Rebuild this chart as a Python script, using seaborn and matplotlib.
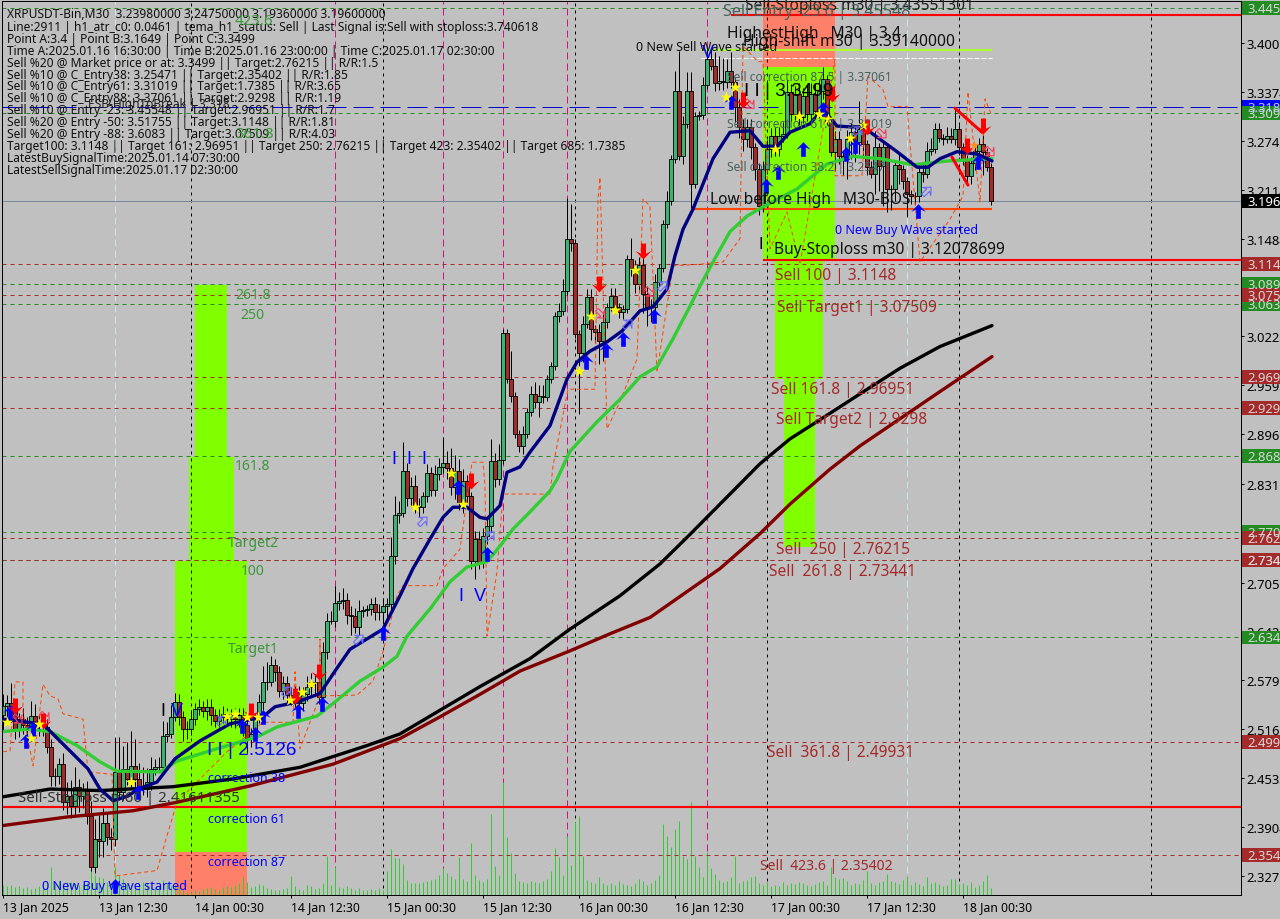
import matplotlib
matplotlib.use("Agg")
import matplotlib.pyplot as plt
from matplotlib.path import Path
from matplotlib.patches import Rectangle
from matplotlib.transforms import blended_transform_factory
import numpy as np
import pandas as pd
import seaborn as sns

# Candles, one close per 30 minute bar
closes = [
    2.546, 2.550, 2.540, 2.516, 2.529, 2.522, 2.516, 2.533, 2.522, 2.525, 2.519, 2.493,
    2.456, 2.456, 2.471, 2.422, 2.430, 2.417, 2.442, 2.430, 2.439, 2.404, 2.339, 2.375,
    2.372, 2.395, 2.377, 2.375, 2.461, 2.435, 2.465, 2.452, 2.469, 2.452, 2.442, 2.439,
    2.448, 2.465, 2.468, 2.468, 2.507, 2.510, 2.532, 2.551, 2.532, 2.516, 2.516, 2.529,
    2.542, 2.545, 2.540, 2.545, 2.534, 2.527, 2.532, 2.536, 2.529, 2.534, 2.529, 2.534,
    2.522, 2.505, 2.510, 2.529, 2.551, 2.577, 2.577, 2.599, 2.590, 2.565, 2.575, 2.560,
    2.555, 2.564, 2.550, 2.561, 2.570, 2.577, 2.577, 2.558, 2.616, 2.656, 2.656, 2.679,
    2.681, 2.683, 2.663, 2.662, 2.648, 2.668, 2.670, 2.671, 2.677, 2.667, 2.667, 2.675,
    2.677, 2.739, 2.792, 2.795, 2.849, 2.814, 2.829, 2.804, 2.802, 2.817, 2.846, 2.824,
    2.845, 2.854, 2.859, 2.853, 2.828, 2.849, 2.809, 2.836, 2.817, 2.733, 2.761, 2.732,
    2.765, 2.778, 2.862, 2.838, 2.863, 3.026, 2.967, 2.945, 2.896, 2.881, 2.896, 2.925,
    2.948, 2.938, 2.945, 2.944, 2.967, 2.984, 3.048, 3.055, 3.081, 3.148, 3.142, 3.025,
    3.001, 3.038, 3.073, 3.032, 3.028, 3.016, 3.041, 3.060, 3.074, 3.060, 3.054, 3.057,
    3.122, 3.110, 3.090, 3.114, 3.077, 3.060, 3.060, 3.092, 3.110, 3.167, 3.196, 3.251,
    3.338, 3.254, 3.296, 3.338, 3.218, 3.306, 3.307, 3.346, 3.379, 3.370, 3.348, 3.351,
    3.350, 3.364, 3.350, 3.318, 3.292, 3.276, 3.292, 3.266, 3.238, 3.190, 3.238, 3.263,
    3.280, 3.263, 3.280, 3.283, 3.337, 3.309, 3.334, 3.305, 3.332, 3.309, 3.334, 3.312,
    3.338, 3.354, 3.300, 3.260, 3.276, 3.254, 3.250, 3.276, 3.285, 3.272, 3.289, 3.270,
    3.240, 3.231, 3.266, 3.242, 3.266, 3.212, 3.212, 3.243, 3.238, 3.222, 3.206, 3.203,
    3.203, 3.234, 3.231, 3.261, 3.263, 3.289, 3.278, 3.276, 3.280, 3.276, 3.289, 3.266,
    3.251, 3.229, 3.245, 3.261, 3.270, 3.260, 3.240, 3.196,
]
first_open = 2.535

# Wick lengths in thousandths of a price unit
upper_wicks = [
    15, 10, 25, 12, 8, 15, 10, 20, 15, 10, 8, 10,
    10, 10, 8, 15, 18, 20, 25, 10, 8, 10, 20, 25,
    30, 20, 15, 12, 45, 45, 30, 35, 45, 35, 20, 25,
    18, 15, 10, 12, 20, 15, 15, 12, 10, 8, 10, 12,
    8, 10, 8, 10, 10, 8, 10, 10, 8, 8, 10, 10,
    10, 12, 8, 8, 10, 20, 25, 12, 8, 8, 10, 10,
    10, 8, 8, 10, 15, 12, 10, 10, 12, 10, 12, 21,
    12, 15, 8, 12, 10, 15, 5, 5, 8, 10, 10, 10,
    8, 25, 25, 15, 37, 10, 12, 15, 10, 5, 12, 8,
    12, 12, 33, 15, 25, 20, 15, 15, 8, 5, 10, 10,
    10, 10, 28, 10, 20, 5, 5, 36, 5, 5, 10, 5,
    10, 15, 15, 15, 5, 5, 5, 10, 15, 52, 45, 5,
    5, 10, 10, 10, 5, 10, 10, 5, 10, 10, 5, 5,
    5, 27, 10, 10, 10, 10, 10, 10, 5, 5, 13, 5,
    26, 52, 10, 25, 25, 5, 5, 10, 13, 13, 18, 32,
    30, 15, 25, 5, 10, 10, 10, 10, 5, 8, 10, 12,
    10, 12, 12, 15, 15, 10, 10, 15, 10, 15, 15, 15,
    15, 15, 5, 5, 10, 10, 5, 12, 12, 10, 36, 12,
    5, 8, 20, 5, 8, 5, 5, 5, 15, 5, 5, 5,
    5, 8, 10, 12, 15, 8, 8, 5, 12, 10, 28, 5,
    5, 5, 8, 8, 8, 12, 5, 5,
]
lower_wicks = [
    20, 15, 15, 12, 10, 12, 15, 15, 15, 15, 12, 8,
    13, 13, 10, 10, 15, 15, 13, 20, 15, 10, 5, 8,
    20, 20, 10, 15, 10, 10, 10, 8, 10, 10, 8, 8,
    10, 10, 8, 5, 5, 8, 5, 5, 10, 15, 12, 8,
    8, 8, 8, 12, 12, 8, 8, 8, 8, 10, 12, 10,
    15, 20, 12, 8, 5, 10, 10, 5, 12, 8, 10, 10,
    8, 10, 8, 10, 8, 10, 15, 10, 8, 10, 5, 8,
    10, 10, 12, 25, 8, 10, 8, 8, 8, 10, 10, 15,
    15, 8, 10, 10, 5, 10, 10, 10, 12, 8, 8, 8,
    8, 8, 8, 15, 10, 15, 10, 15, 10, 10, 23, 10,
    8, 10, 8, 10, 8, 5, 5, 8, 5, 8, 10, 5,
    5, 8, 20, 8, 5, 5, 5, 8, 5, 5, 10, 5,
    79, 12, 5, 15, 15, 30, 25, 8, 5, 5, 8, 10,
    5, 10, 12, 10, 25, 25, 20, 10, 5, 5, 5, 5,
    5, 5, 10, 5, 30, 5, 5, 5, 5, 5, 10, 8,
    10, 8, 8, 20, 15, 15, 10, 15, 15, 12, 8, 5,
    10, 8, 8, 8, 5, 10, 8, 10, 8, 10, 8, 10,
    8, 10, 5, 5, 25, 10, 20, 25, 25, 25, 15, 15,
    10, 5, 25, 33, 52, 30, 27, 15, 20, 10, 30, 10,
    10, 8, 10, 5, 5, 5, 5, 8, 5, 5, 8, 10,
    8, 8, 10, 8, 5, 30, 5, 5,
]
volumes = [
    10, 9, 10, 8, 9, 7, 8, 6, 7, 9, 12, 14,
    28, 11, 14, 12, 13, 13, 12, 10, 11, 12, 27, 20,
    18, 17, 13, 12, 28, 20, 16, 12, 10, 8, 10, 13,
    12, 8, 7, 9, 15, 12, 9, 10, 8, 5, 3, 3,
    5, 4, 6, 7, 8, 6, 5, 8, 9, 8, 10, 12,
    18, 13, 8, 9, 11, 10, 7, 6, 5, 5, 6, 7,
    19, 9, 6, 5, 10, 9, 6, 7, 12, 39, 10, 28,
    8, 7, 9, 7, 5, 7, 5, 5, 6, 5, 7, 5,
    24, 46, 37, 37, 31, 15, 12, 12, 12, 13, 14, 15,
    16, 20, 27, 22, 19, 16, 38, 16, 14, 52, 20, 15,
    13, 16, 81, 29, 20, 113, 58, 42, 22, 14, 13, 12,
    14, 13, 12, 14, 16, 24, 47, 38, 20, 59, 30, 73,
    79, 39, 15, 13, 12, 18, 12, 10, 12, 10, 14, 11,
    10, 9, 12, 16, 14, 10, 12, 15, 20, 71, 59, 48,
    66, 74, 39, 36, 93, 39, 28, 18, 43, 27, 21, 15,
    13, 14, 18, 39, 12, 14, 15, 18, 19, 12, 10, 13,
    9, 10, 9, 13, 10, 12, 11, 13, 12, 10, 9, 11,
    13, 14, 10, 28, 18, 16, 17, 14, 10, 12, 11, 15,
    24, 12, 10, 13, 14, 21, 14, 13, 11, 15, 19, 10,
    13, 11, 9, 18, 12, 13, 11, 9, 10, 16, 16, 11,
    12, 10, 13, 8, 10, 14, 20, 7,
]

# Moving averages, read at the bends
blue_bars = [0, 9.25, 10.5, 21.25, 24.25, 27.5, 31.25, 33.75, 38.5, 43, 49.25, 56.75, 65, 68, 73.5, 79.25,
             83, 86.75, 95, 99.25, 102.5, 106.75, 110, 112.5, 116, 119.25, 121, 124.25, 126, 129.25, 131.75,
             136.75, 141, 143.5, 146.75, 151, 154.75, 159.25, 162.5, 166, 168, 170, 172.5, 177.5, 181.75,
             186.75, 190, 193.5, 196.75, 201.75, 205, 208.5, 211.75, 215, 219.25, 223.5, 228.5, 231.25,
             234.25, 238.5, 243.5, 247.25]
blue_vals = [2.529, 2.523, 2.520, 2.465, 2.439, 2.424, 2.430, 2.439, 2.448, 2.478, 2.501, 2.523, 2.532, 2.545,
             2.551, 2.562, 2.591, 2.619, 2.645, 2.688, 2.723, 2.761, 2.789, 2.802, 2.802, 2.789, 2.787, 2.804,
             2.847, 2.854, 2.873, 2.907, 2.967, 2.989, 3.003, 3.015, 3.029, 3.055, 3.060, 3.083, 3.126, 3.160,
             3.186, 3.251, 3.285, 3.287, 3.267, 3.267, 3.285, 3.296, 3.315, 3.293, 3.292, 3.292, 3.276, 3.260,
             3.240, 3.240, 3.251, 3.260, 3.257, 3.248]
green_bars = [0, 6, 11.75, 18.5, 24.25, 28.5, 39.25, 43.5, 53.5, 63.5, 68.5, 78.5, 82.5, 89.25, 95, 98.5, 101,
              106.75, 111.75, 116, 121, 124.25, 127.5, 131.75, 136.75, 138.5, 141.75, 148.5, 154.25, 159.25,
              163.5, 167.5, 171.75, 174.25, 177.5, 181.75, 186, 190, 198.5, 206, 212.5, 219.25, 227.5, 236, 247.25]
green_vals = [2.513, 2.516, 2.513, 2.495, 2.474, 2.462, 2.461, 2.475, 2.491, 2.506, 2.519, 2.533, 2.549, 2.578,
              2.596, 2.610, 2.636, 2.671, 2.706, 2.725, 2.732, 2.752, 2.774, 2.796, 2.823, 2.838, 2.874, 2.912,
              2.941, 2.970, 2.983, 3.019, 3.061, 3.087, 3.118, 3.157, 3.177, 3.189, 3.212, 3.244, 3.254, 3.251,
              3.243, 3.248, 3.251]
black_bars = [0, 11.75, 24.25, 42.5, 57.5, 74.25, 91, 99.25, 119.25, 131.75, 141.75, 154.25, 164.25, 171.75, 179.25,
              189.25, 196.75, 206.75, 214.25, 224.25, 234.25, 247.25]
black_vals = [2.429, 2.439, 2.437, 2.442, 2.452, 2.467, 2.495, 2.510, 2.571, 2.607, 2.645, 2.688, 2.729, 2.767, 2.806,
              2.858, 2.890, 2.923, 2.948, 2.981, 3.009, 3.036]
maroon_bars = [0, 16, 32.5, 43.5, 61.75, 82.5, 99.25, 109.25, 119.25, 129.25, 141.75, 151.75, 161.75, 171.75, 179.25,
               189.25, 196.75, 206.75, 214.25, 224.25, 234.25, 247.25]
maroon_vals = [2.392, 2.403, 2.411, 2.422, 2.443, 2.471, 2.504, 2.532, 2.561, 2.591, 2.617, 2.639, 2.660, 2.696, 2.723,
               2.768, 2.806, 2.851, 2.881, 2.916, 2.951, 2.996]

# Thin orange dashed channel
orange_bars = [0, 1.75, 3, 5, 5, 7.5, 10, 11.75, 13.75, 15, 20, 21.25, 27.25, 28, 38.5, 41, 43.5, 49.25, 56, 65,
               72.5, 73, 74.25, 79.25, 79.25, 79.25, 88.5, 92.5, 95, 98.5, 100, 108.5, 110, 114.25, 117.25, 120,
               120.5, 121, 123.5, 125, 136.75, 137.5, 141.25, 148, 148.75, 149.25, 151, 154.25, 158.5, 160,
               161.75, 163.5, 167.5, 174.25, 180, 184.25, 185, 188.75, 190, 191.75, 196, 199.25, 208, 208,
               214.75, 216.25, 220, 221.25, 226, 229.25, 236.75, 240, 241.25, 244.25, 245.5, 247.25]
orange_vals = [2.487, 2.488, 2.577, 2.577, 2.538, 2.469, 2.574, 2.559, 2.555, 2.536, 2.529, 2.461, 2.458, 2.327,
               2.334, 2.379, 2.422, 2.452, 2.487, 2.525, 2.525, 2.590, 2.491, 2.559, 2.632, 2.559, 2.560, 2.578,
               2.616, 2.688, 2.701, 2.701, 2.723, 2.748, 2.860, 2.860, 2.829, 2.636, 2.719, 2.819, 2.819, 2.855,
               2.954, 2.954, 3.199, 3.227, 2.903, 2.938, 2.993, 3.199, 3.190, 2.976, 3.113, 3.115, 3.118, 3.148,
               3.396, 3.376, 3.376, 3.135, 3.182, 3.115, 3.379, 3.229, 3.229, 3.357, 3.340, 3.318, 3.318, 3.118,
               3.173, 3.203, 3.337, 3.195, 3.328, 3.306]

# Signals
buy_bars = [1.75, 7.5, 5.75, 28, 33.75, 59.75, 63, 65, 73.75, 79.75, 95, 113.75, 121, 145.75, 150.75, 155, 162.75,
            182, 190.75, 193.75, 200, 205, 210.75, 213, 228.75, 243.75]
buy_vals = [2.538, 2.516, 2.501, 2.314, 2.435, 2.520, 2.510, 2.532, 2.540, 2.549, 2.640, 2.828, 2.742, 2.989, 3.005,
            3.019, 3.048, 3.324, 3.216, 3.234, 3.263, 3.315, 3.257, 3.267, 3.184, 3.247]
sell_bars = [3, 10, 62, 73, 79, 117, 149, 160, 185, 207.25, 216, 241, 245]
sell_vals = [2.546, 2.527, 2.540, 2.559, 2.590, 2.836, 3.090, 3.132, 3.327, 3.334, 3.292, 3.267, 3.293]
star_bars = [1, 7, 9, 32, 56, 58, 61, 63.75, 71.75, 74.75, 77, 112, 115, 103, 144, 147, 153, 158, 180.75, 183, 193,
             199, 204, 206.25, 211.75, 215]
star_vals = [2.525, 2.505, 2.523, 2.448, 2.533, 2.536, 2.532, 2.532, 2.554, 2.564, 2.574, 2.846, 2.806, 2.802, 2.978,
             3.048, 3.056, 3.108, 3.330, 3.343, 3.263, 3.306, 3.309, 3.302, 3.278, 3.294]
hollow_up_bars = [105, 89, 121.75, 231, 213.75, 165, 156.25, 54.75, 71]
hollow_up_vals = [2.784, 2.632, 2.765, 3.209, 3.287, 3.087, 3.038, 2.527, 2.565]
hollow_down_bars = [149.5, 161.75, 186.75, 219.75, 246.75, 3.75, 10.5]
hollow_down_vals = [3.051, 3.079, 3.321, 3.283, 3.260, 2.529, 2.532]

# Levels
green_levels = [3.44550, 3.30950, 3.08930, 3.06350, 2.86840, 2.77010, 2.73440, 2.63420]
brown_levels = [3.11480, 3.07509, 2.96951, 2.92980, 2.76215, 2.73441, 2.49931, 2.35402]
ticks_y = [3.400, 3.337, 3.274, 3.211, 3.148, 3.022, 2.959, 2.896, 2.832, 2.705, 2.642, 2.579, 2.516, 2.453, 2.390, 2.327]
tick_labels_y = ["3.40070", "3.33740", "3.27410", "3.21140", "3.14840", "3.02230", "2.95930", "2.89620", "2.83160",
                 "2.70570", "2.64230", "2.57900", "2.51630", "2.45330", "2.39040", "2.32710"]
ticks_x = [0, 24, 48, 72, 96, 120, 144, 168, 192, 216, 240]
tick_labels_x = ["13 Jan 2025", "13 Jan 12:30", "14 Jan 00:30", "14 Jan 12:30", "15 Jan 00:30", "15 Jan 12:30",
                 "16 Jan 00:30", "16 Jan 12:30", "17 Jan 00:30", "17 Jan 12:30", "18 Jan 00:30"]

day_lines = [47, 95, 143, 191, 239, 287]
magenta_lines = [83, 110, 125, 141, 176]
cyan_lines = [28, 226]

info_lines = [
    "XRPUSDT-Bin,M30  3.23980000 3.24750000 3.19360000 3.19600000",
    "Line:2911 | h1_atr_c0: 0.0461 | tema_h1_status: Sell | Last Signal is:Sell with stoploss:3.740618",
    "Point A:3.4 | Point B:3.1649 | Point C:3.3499",
    "Time A:2025.01.16 16:30:00 | Time B:2025.01.16 23:00:00 | Time C:2025.01.17 02:30:00",
    "Sell %20 @ Market price or at: 3.3499 || Target:2.76215 || R/R:1.5",
    "Sell %10 @ C_Entry38: 3.25471 || Target:2.35402 || R/R:1.85",
    "Sell %10 @ C_Entry61: 3.31019 || Target:1.7385 || R/R:3.65",
    "Sell %10 @ C_Entry88: 3.37061 || Target:2.9298 || R/R:1.19",
    "Sell %10 @ Entry -23: 3.45548 || Target:2.96951 || R/R:1.7",
    "Sell %20 @ Entry -50: 3.51755 || Target:3.1148 || R/R:1.81",
    "Sell %20 @ Entry -88: 3.6083 || Target:3.07509 || R/R:4.03",
    "Target100: 3.1148 || Target 161: 2.96951 || Target 250: 2.76215 || Target 423: 2.35402 || Target 685: 1.7385",
    "LatestBuySignalTime:2025.01.14 07:30:00",
    "LatestSellSignalTime:2025.01.17 02:30:00",
]

W, H = 1280, 920
BG = "#C0C0C0"
LIME = "#7FFF00"
SALMON = "#FF8068"
BROWN = "#A52A2A"
FOREST = "#228B22"
SLATE = "#4A5F5F"
FIBGREEN = "#3C963C"
BLUE = "#0000FF"
ONE_PX = 0.72

sns.set_theme(style="white", rc={"axes.facecolor": BG, "figure.facecolor": BG})
plt.rcParams["font.family"] = ["Noto Sans", "DejaVu Sans"]

fig = plt.figure(figsize=(W / 100, H / 100), dpi=100)
ax = fig.add_axes([2 / W, 1 - 896 / H, 1239 / W, 894 / H])
ax.set_xlim(-0.25, 309.5)
ax.set_ylim(2.3025, 3.4541)

# Fibonacci zones behind everything
left_zones = [(48, 56, 2.867, 3.088), (46.5, 57.75, 2.733, 2.867), (43, 61, 2.358, 2.733)]
right_zones = [(190, 208, 3.119, 3.369), (193, 205, 2.967, 3.119), (195.25, 203, 2.751, 2.967)]
for x0, x1, y0, y1 in left_zones + right_zones:
    ax.add_patch(Rectangle((x0, y0), x1 - x0, y1 - y0, color=LIME, lw=0, zorder=1))
ax.add_patch(Rectangle((43, 2.3025), 18, 0.0555, color=SALMON, lw=0, zorder=1))
ax.add_patch(Rectangle((190, 3.369), 18, 0.0851, color=SALMON, lw=0, zorder=1))

# Period separators
ax.vlines(day_lines, 2.3025, 3.4541, color="black", lw=ONE_PX, ls=(0, (3, 4)), zorder=1.2)
ax.vlines(magenta_lines, 2.3025, 3.4541, color="#C71585", lw=ONE_PX, ls=(0, (7, 4)), zorder=1.2)
ax.vlines(cyan_lines, 2.3025, 3.4541, color="#C8E8F0", lw=ONE_PX, ls=(0, (7, 4)), zorder=1.2)

# Volumes sit on the same bars, 1 unit is 1 pixel
ax_vol = ax.inset_axes([0, 0, 1, 1], zorder=1.4)
ax_vol.patch.set_alpha(0)
ax_vol.set_axis_off()
ax_vol.set_xlim(-0.25, 309.5)
ax_vol.set_ylim(0, 894)
ax_vol.vlines(np.arange(len(volumes)), 0, volumes, color="#32CD32", lw=ONE_PX)

# Horizontal levels
ax.hlines(green_levels, -0.25, 309.5, color=FOREST, lw=ONE_PX, ls=(0, (4, 4)), zorder=1.6)
ax.hlines(brown_levels, -0.25, 309.5, color=BROWN, lw=ONE_PX, ls=(0, (4, 4)), zorder=1.6)
ax.axhline(3.318, color="#0000CD", lw=ONE_PX, ls=(0, (20, 7)), zorder=1.6)
ax.axhline(3.196, color="#778899", lw=ONE_PX, zorder=1.6)
ax.hlines([3.43551301], 182, 309.5, color="red", lw=1.5, zorder=1.7)
ax.hlines([3.12078699], 190, 309.5, color="red", lw=1.5, zorder=1.7)
ax.hlines([2.41611355], -0.25, 309.5, color="red", lw=1.5, zorder=1.7)
ax.hlines([3.186], 172.5, 247.25, color="#FF4500", lw=1.5, zorder=1.7)
ax.hlines([3.3914], 174.5, 247.25, color="#ADFF2F", lw=1.5, zorder=1.7)
ax.hlines([3.3805], 174.5, 247.25, color="white", lw=ONE_PX, ls=(0, (5, 2)), zorder=1.7)

# Candles
c = np.array(closes)
o = np.array([first_open] + closes[:-1])
bars = np.arange(len(c))
hi = np.maximum(o, c) + np.array(upper_wicks) / 1000
lo = np.minimum(o, c) - np.array(lower_wicks) / 1000
ax.vlines(bars, lo, hi, color="black", lw=ONE_PX, zorder=2)
up = c >= o
ax.bar(bars[up], (c - o)[up], bottom=o[up], width=0.8, color="#3CB371", edgecolor="black", lw=0.6, zorder=2.1)
ax.bar(bars[~up], (c - o)[~up], bottom=o[~up], width=0.8, color=BROWN, edgecolor="black", lw=0.6, zorder=2.1)

# Lines
orange = pd.DataFrame({"bar": orange_bars, "price": orange_vals})
sns.lineplot(data=orange, x="bar", y="price", ax=ax, color="#FF4500", lw=ONE_PX, ls=(0, (4, 3)),
             sort=False, estimator=None, zorder=2.2)
for xs, ys, col in [(maroon_bars, maroon_vals, "#800000"), (black_bars, black_vals, "black"),
                    (green_bars, green_vals, "#32CD32"), (blue_bars, blue_vals, "#000080")]:
    line = pd.DataFrame({"bar": xs, "price": ys})
    sns.lineplot(data=line, x="bar", y="price", ax=ax, color=col, lw=2.4, sort=False, estimator=None, zorder=2.4)
ax.plot([238, 244.75], [3.316, 3.285], color="red", lw=2.2, zorder=2.5)
ax.plot([237.25, 241.25], [3.253, 3.217], color="red", lw=2.2, zorder=2.5)

# Arrow markers
arrow_pts = np.array([(0, 1), (1, -0.05), (0.32, 0.28), (0.32, -1), (-0.32, -1), (-0.32, 0.28), (-1, -0.05), (0, 1)])
arrow_up = Path(arrow_pts, closed=True)
arrow_down = Path(arrow_pts * [1, -1], closed=True)
rot = np.radians(-45)
rot_m = np.array([[np.cos(rot), -np.sin(rot)], [np.sin(rot), np.cos(rot)]])
arrow_ne = Path(arrow_pts @ rot_m.T, closed=True)
arrow_se = Path((arrow_pts * [1, -1]) @ rot_m, closed=True)

sns.scatterplot(x=hollow_up_bars, y=hollow_up_vals, ax=ax, marker=arrow_ne, s=60, facecolor="none",
                edgecolor="#6A6AFF", linewidth=0.8, zorder=2.6)
sns.scatterplot(x=hollow_down_bars, y=hollow_down_vals, ax=ax, marker=arrow_se, s=60, facecolor="none",
                edgecolor="#F04060", linewidth=0.8, zorder=2.6)
sns.scatterplot(x=buy_bars, y=buy_vals, ax=ax, marker=arrow_up, s=110, color=BLUE, linewidth=0, zorder=2.7)
sns.scatterplot(x=sell_bars, y=sell_vals, ax=ax, marker=arrow_down, s=130, color="red", linewidth=0, zorder=2.7)
sns.scatterplot(x=star_bars, y=star_vals, ax=ax, marker="*", s=75, color="yellow", linewidth=0, zorder=2.8)
sns.scatterplot(x=[242.75], y=[3.268], ax=ax, marker="*", s=60, color="#FF9020", linewidth=0, zorder=2.8)

# Axes
ax.set_xlabel("")
ax.set_ylabel("")
ax.yaxis.tick_right()
ax.set_yticks(ticks_y)
ax.set_yticklabels(tick_labels_y, fontsize=9.4, color="black")
ax.set_xticks(ticks_x)
ax.set_xticklabels(tick_labels_x, fontsize=8.8, color="black", ha="left")
ax.tick_params(axis="y", length=2.5, width=ONE_PX, pad=1.5, color="black", right=True)
ax.tick_params(axis="x", length=2.5, width=ONE_PX, pad=1, color="black", bottom=True)
for s in ax.spines.values():
    s.set_color("black")
    s.set_linewidth(ONE_PX)
    s.set_visible(True)

# Price boxes in the right margin
box_tr = blended_transform_factory(fig.transFigure, ax.transData)


def price_box(value, text, face, fg="#D8D8D8"):
    ax.add_patch(Rectangle((1242 / W, value - 0.009), 38 / W, 0.018, transform=box_tr, color=face, lw=0,
                           clip_on=False, zorder=5))
    ax.text(1247 / W, value - 0.0005, text, transform=box_tr, color=fg, fontsize=9.4, va="center", ha="left",
            clip_on=False, zorder=6)


price_box(3.318, "3.31800", BLUE, "#C0C0FF")
for v in green_levels:
    price_box(v, f"{v:.5f}", FOREST)
for v in brown_levels:
    price_box(v, f"{v:.5f}", BROWN)
price_box(3.196, "3.19600", "black", "white")


def label(x, y, txt, color="black", px=12, **kw):
    fig.text(x / W, 1 - (y + 1.5) / H, txt, color=color, fontsize=px * 0.72, va="center", ha="left", **kw)


# Info block, top left
info_y = [13, 26, 38, 50, 62, 74, 85, 97, 109, 121, 133, 145, 157, 169]
for yy, line in zip(info_y, info_lines):
    label(7, yy, line, "#101010", 12)
label(88, 103, "ESB-HighToBreak | 3.318", "#202020", 12)
label(235, 20, "423.6", FIBGREEN, 15)
label(235, 133, "361.8", FIBGREEN, 15)

# Left fib labels
for x, y, t in [(235, 294, "261.8"), (240, 314, "250"), (235, 465, "161.8"), (228, 542, "Target2"),
                (241, 570, "100"), (228, 648, "Target1")]:
    label(x, y, t, FIBGREEN, 14)
PLAIN = "Liberation Sans"
label(207, 749, "I I | 2.5126", BLUE, 19, family=PLAIN)
label(208, 777, "correction 38", BLUE, 12.5)
label(208, 818, "correction 61", BLUE, 12.5)
label(208, 861, "correction 87", BLUE, 12.5)
label(42, 885, "0 New Buy Wave started", BLUE, 12.7)
label(160, 710, "I", "black", 18, family=PLAIN)
label(171, 710, "V", BLUE, 18, family=PLAIN)
label(392, 458, "I  I  I", BLUE, 18, family=PLAIN)
label(459, 595, "I  V", BLUE, 18, family=PLAIN)
label(18, 797, "Sell-Stoploss m60 | 2.41611355", "#303030", 15)

# Right block labels
label(745, 5, "Sell-Stoploss m30 | 3.43551301", "#202020", 15.5)
label(723, 11, "Sell Entry -23.6 | 3.45548", SLATE, 16)
label(727, 33, "HighestHigh   M30 | 3.4", "#101010", 15.5)
label(743, 40, "High-shift m30 | 3.39140000", "#101010", 15.7)
label(636, 46, "0 New Sell Wave started", "#101010", 12.5)
label(702, 52, "V", BLUE, 18, family=PLAIN)
label(727, 76, "Sell correction 87.5 | 3.37061", SLATE, 12)
label(744, 90, "I I | 3.3499", "black", 19, family=PLAIN)
label(727, 123, "Sell correction 61.8 | 3.31019", SLATE, 12)
label(727, 166, "Sell correction 38.2 | 3.25471", SLATE, 12)
label(710, 198, "Low before High   M30-BOS", "#101010", 15.5)
label(835, 229, "0 New Buy Wave started", BLUE, 12.5)
label(758, 243, "I", "black", 16, family=PLAIN)
label(774, 249, "Buy-Stoploss m30 | 3.12078699", "#101010", 15.5)
for x, y, t in [(775, 275, "Sell 100 | 3.1148"), (777, 306, "Sell Target1 | 3.07509"),
                (771, 388, "Sell 161.8 | 2.96951"), (776, 419, "Sell Target2 | 2.9298"),
                (776, 548, "Sell  250 | 2.76215"), (769, 570, "Sell  261.8 | 2.73441"),
                (767, 752, "Sell  361.8 | 2.49931")]:
    label(x, y, t, BROWN, 15.5)
label(760, 865, "Sell  423.6 | 2.35402", BROWN, 14)

fig.savefig("out.png", dpi=100, facecolor=BG)
